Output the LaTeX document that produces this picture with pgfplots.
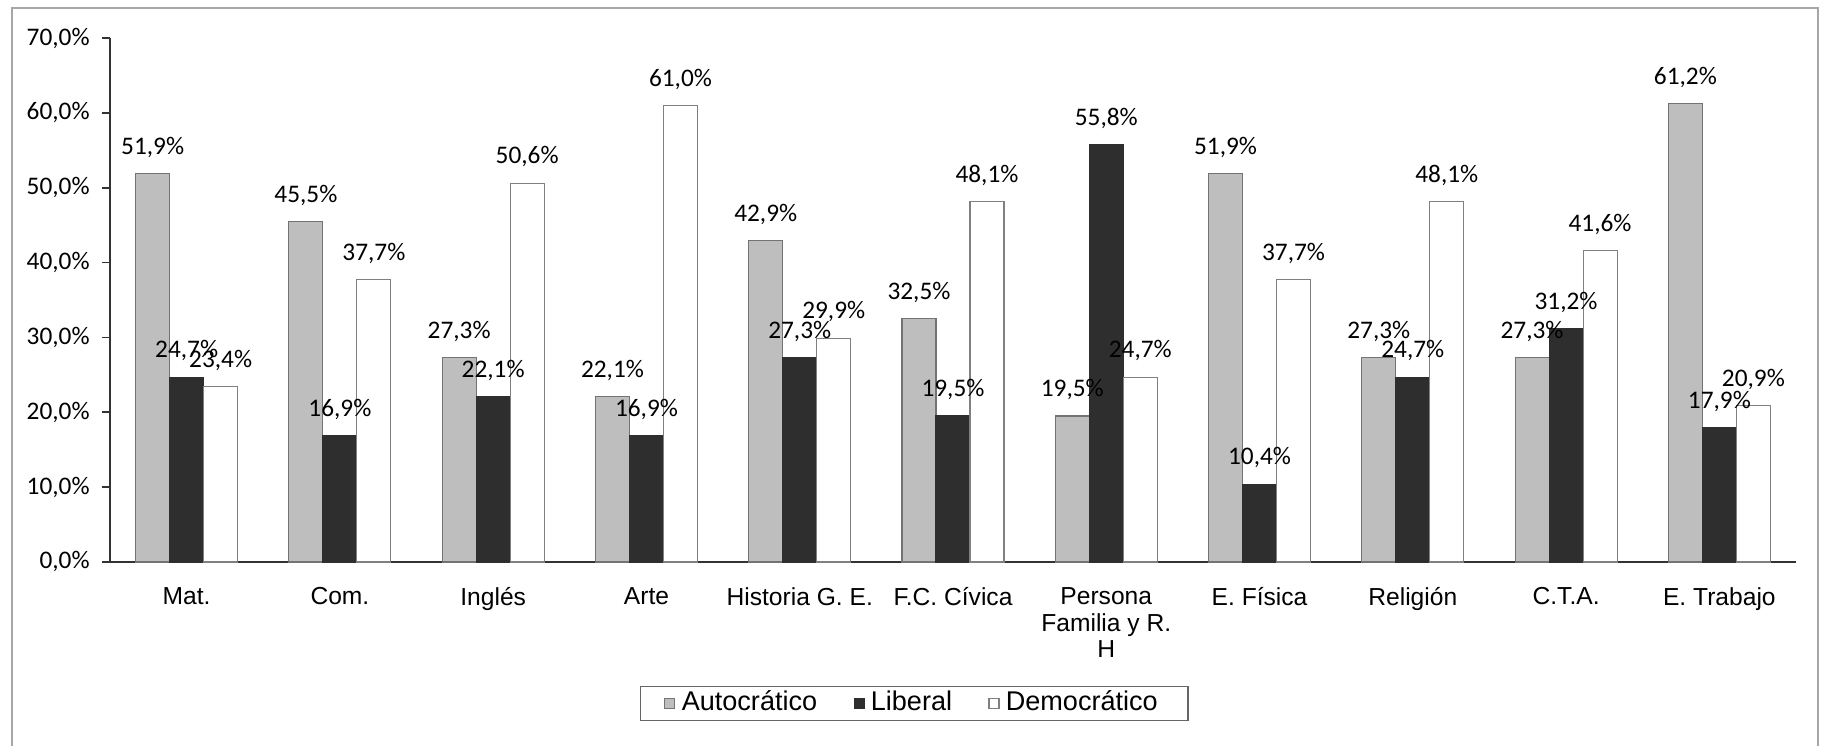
\documentclass[border=0pt]{standalone}
\usepackage{fontspec}
\setmainfont{Carlito}
\newfontfamily\arial{Liberation Sans}
\usepackage{pgfplots}
\pgfplotsset{compat=1.18}
\definecolor{autoc}{HTML}{BEBEBE}
\definecolor{liber}{HTML}{2E2E2E}
\begin{document}
\begin{tikzpicture}
\useasboundingbox (0,0) rectangle (182.1mm,74.6mm);
\draw[gray!70, line width=0.4pt] (1.2mm,0) -- (1.2mm,73.8mm) -- (181.8mm,73.8mm) -- (181.8mm,0);
\begin{axis}[
  at={(11mm,18.4mm)}, anchor=south west,
  width=168.6mm, height=52.4mm, scale only axis,
  ybar=0pt, bar width=3.4mm,
  xmin=-0.5, xmax=10.5, ymin=0, ymax=70,
  axis x line*=bottom, axis y line*=left,
  axis line style={black!80, line width=0.5pt},
  ytick={0,10,...,70},
  yticklabel={\pgfmathprintnumber[fixed,fixed zerofill,precision=1,use comma]{\tick}\%},
  y tick label style={font=\fontsize{7.2}{8}\selectfont},
  /pgf/number format/assume math mode=true,
  tick align=outside, major tick length=0.8mm,
  tick style={black!80, line width=0.5pt},
  xtick={0,...,10},
  major x tick style={draw=none},
  xticklabels={Mat., Com., Inglés, Arte, Historia G. E., F.C. Cívica, {Persona\\Familia y R.\\H}, E. Física, Religión, C.T.A., E. Trabajo},
  x tick label style={font=\arial\fontsize{7}{7.6}\selectfont, align=center, yshift=-0.5mm},
  extra x ticks={-0.5,0.5,...,10.5},
  extra x tick labels={},
  extra x tick style={major tick length=0.8mm, tick style={black!80}},
  nodes near coords={\pgfmathprintnumber[fixed,fixed zerofill,precision=1,use comma]{\pgfplotspointmeta}\%},
  every node near coord/.append style={font=\fontsize{7.2}{8}\selectfont, inner sep=1pt, yshift=1.2mm},
  clip=false,
  legend columns=3,
  legend style={at={(0.477,-0.270)}, anchor=center, draw=black!60, font=\arial\fontsize{7.7}{8.5}\selectfont,
    inner xsep=2.4mm, inner ysep=0pt, nodes={inner ysep=1.2pt, inner xsep=1.8pt},
    /tikz/every even column/.append style={column sep=3mm}},
  legend image code/.code={\draw[#1] (0mm,-0.5mm) rectangle (1mm,0.5mm);},
]
\addplot[fill=autoc, draw=black!55, line width=0.3pt] coordinates {(0,51.9) (1,45.5) (2,27.3) (3,22.1) (4,42.9) (5,32.5) (6,19.5) (7,51.9) (8,27.3) (9,27.3) (10,61.2)};
\addplot[fill=liber, draw=liber, line width=0.3pt] coordinates {(0,24.7) (1,16.9) (2,22.1) (3,16.9) (4,27.3) (5,19.5) (6,55.8) (7,10.4) (8,24.7) (9,31.2) (10,17.9)};
\addplot[fill=white, draw=black!50, line width=0.3pt] coordinates {(0,23.4) (1,37.7) (2,50.6) (3,61.0) (4,29.9) (5,48.1) (6,24.7) (7,37.7) (8,48.1) (9,41.6) (10,20.9)};
\addlegendentry{Autocrático}
\addlegendentry{Liberal}
\addlegendentry{Democrático}
\end{axis}
\end{tikzpicture}
\end{document}
